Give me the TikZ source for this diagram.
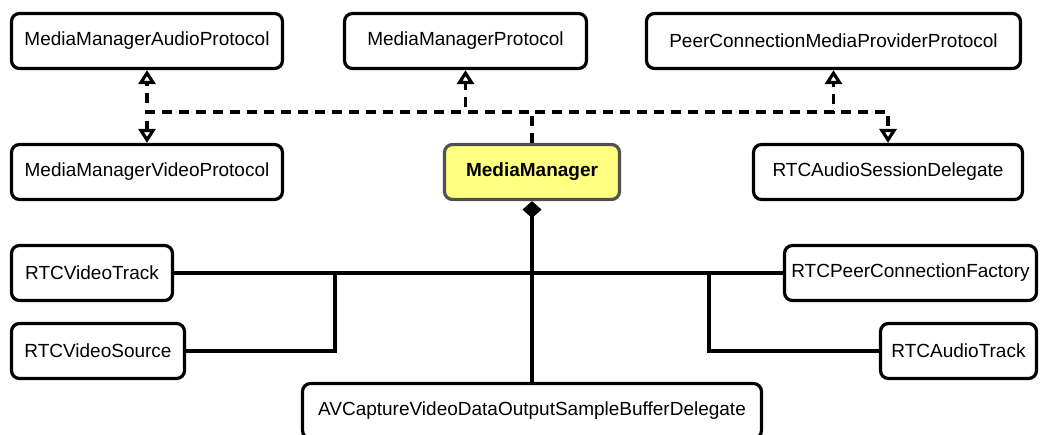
\documentclass[tikz,border=0pt]{standalone}
\usepackage{fontspec}
\setmainfont{Liberation Sans}
\usepackage{xcolor}
\usepackage{tikz}
\usetikzlibrary{arrows.meta, positioning}
\definecolor{mmyellow}{RGB}{255,255,128}
\definecolor{mmborder}{RGB}{80,80,80}
\tikzset{
    classbox/.style={
        rectangle, rounded corners=8pt, minimum height=55pt, inner sep=0pt,
        align=center, draw=black, line width=3.2pt, fill=white, font=\fontsize{19}{22}\selectfont
    },
    mainbox/.style={
        classbox, draw=mmborder, fill=mmyellow, font=\fontsize{19}{22}\selectfont\bfseries
    },
    realize/.style={
        line width=3.2pt, dash pattern=on 10pt off 7pt,
        -{Triangle[length=14pt, width=17pt, fill=white]}
    },
    assoc/.style={
        line width=3.2pt
    },
    compose/.style={
        line width=3.2pt, {Diamond[length=17pt, width=19pt]}-
    }
}

\begin{document}
\begin{tikzpicture}[x=1pt, y=-1pt]
    \useasboundingbox (0, 0) rectangle (1040, 434);
    \node[classbox, minimum width=271pt] (mmaudio) at (147, 41) {MediaManagerAudioProtocol};
    \node[classbox, minimum width=242pt] (mmproto) at (465.5, 41) {MediaManagerProtocol};
    \node[classbox, minimum width=374pt] (pcmpp) at (833.5, 41) {PeerConnectionMediaProviderProtocol};
    \node[classbox, minimum width=271pt] (mmvideo) at (147, 172) {MediaManagerVideoProtocol};
    \node[mainbox, minimum width=175pt] (mm) at (532, 172) {MediaManager};
    \node[classbox, minimum width=269pt] (asd) at (888, 172) {RTCAudioSessionDelegate};
    \node[classbox, minimum width=161pt] (vtrack) at (92, 273) {RTCVideoTrack};
    \node[classbox, minimum width=173pt] (vsource) at (98, 351) {RTCVideoSource};
    \node[classbox, minimum width=459pt] (avc) at (532, 411) {AVCaptureVideoDataOutputSampleBufferDelegate};
    \node[classbox, minimum width=252pt] (pcf) at (910.5, 273) {RTCPeerConnectionFactory};
    \node[classbox, minimum width=156pt] (atrack) at (958.5, 351) {RTCAudioTrack};

    \coordinate (bus) at (0, 112);
    \coordinate (jl) at (335, 273);
    \coordinate (jr) at (709, 273);

    \draw[realize] (mm) |- (mmaudio |- bus) -- (mmaudio);
    \draw[realize] (mm) |- (mmvideo |- bus) -- (mmvideo);
    \draw[realize] (mm) |- (mmproto |- bus) -- (mmproto);
    \draw[realize] (mm) |- (pcmpp |- bus) -- (pcmpp);
    \draw[realize] (mm) |- (asd |- bus) -- (asd);

    \draw[assoc] (vtrack) -- (pcf);
    \draw[assoc] (vsource) -| (jl);
    \draw[assoc] (atrack) -| (jr);
    \draw[compose] (mm) -- (avc);
\end{tikzpicture}
\end{document}
